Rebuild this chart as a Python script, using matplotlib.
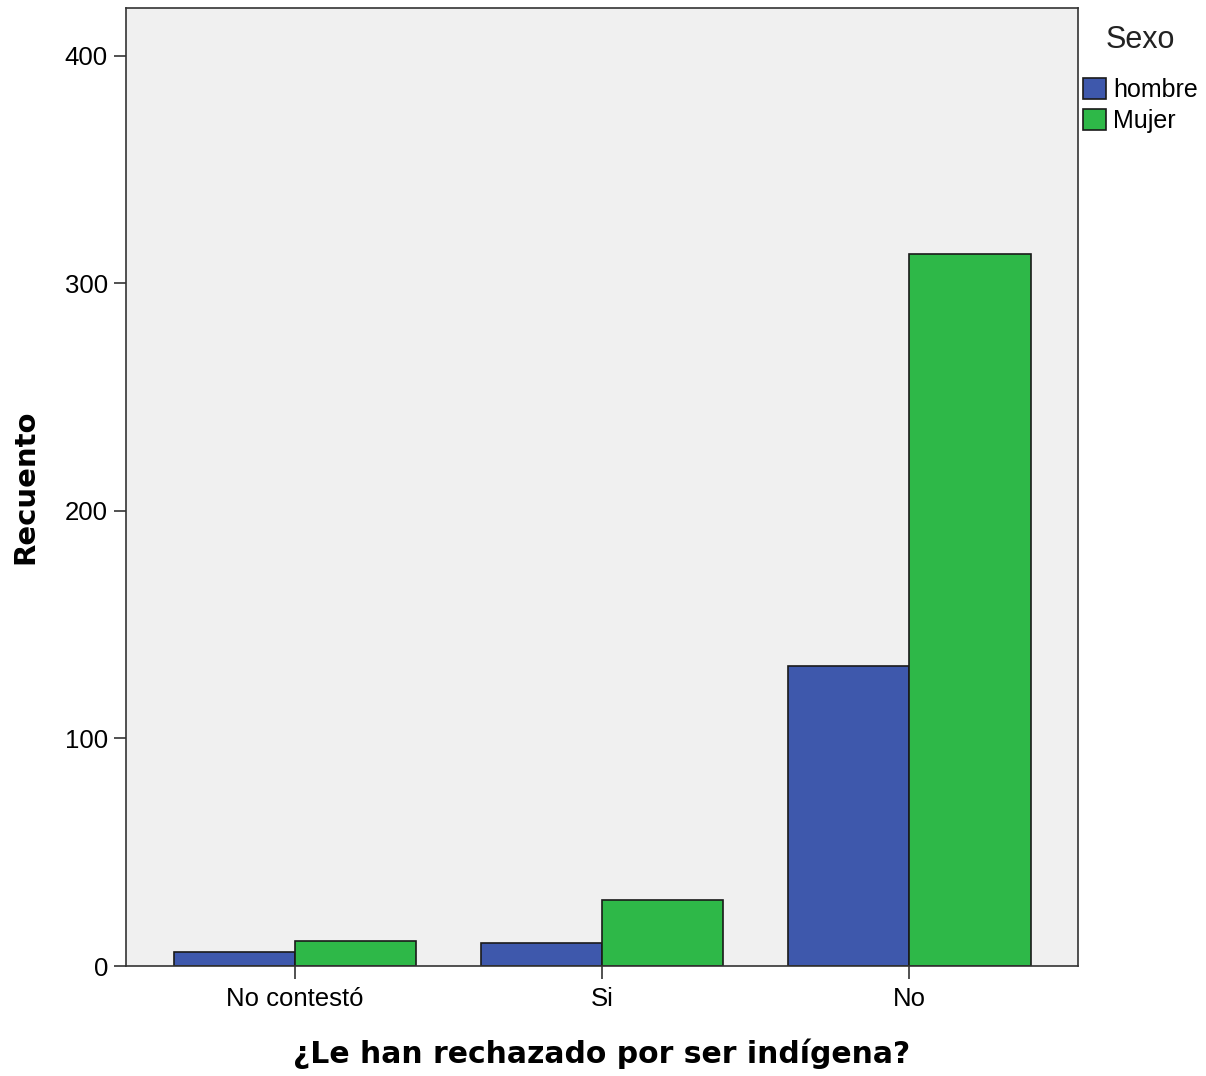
import numpy as np
import matplotlib.pyplot as plt
from matplotlib.patches import Patch

categories = ["No contestó", "Si", "No"]
hombre = [6, 10, 132]
mujer = [11, 29, 313]
series_names = ["hombre", "Mujer"]
yticks = [0, 100, 200, 300, 400]

colors = ["#3e58ac", "#2eb848"]
tick_font = ["Liberation Sans", "DejaVu Sans"]

fig = plt.figure(figsize=(12.06, 10.76), dpi=100)
ax = fig.add_axes([0.1045, 0.1022, 0.7895, 0.8904])
ax.set_facecolor("#f0f0f0")

x = np.arange(len(categories))
w = 0.395
ax.bar(x - w / 2, hombre, w, color=colors[0], edgecolor="#1a1a1a", linewidth=1.2)
ax.bar(x + w / 2, mujer, w, color=colors[1], edgecolor="#1a1a1a", linewidth=1.2)

ax.set_xlim(-0.55, 2.55)
ax.set_ylim(0, 421)
ax.set_yticks(yticks)
ax.set_xticks(x)
ax.set_xticklabels(categories, family=tick_font, fontsize=18.5)
ax.set_yticklabels([str(t) for t in yticks], family=tick_font, fontsize=18.5)
ax.tick_params(axis="both", length=9, width=1.2, color="#333333", pad=4)
ax.tick_params(axis="x", pad=6)
for s in ax.spines.values():
    s.set_color("#333333")
    s.set_linewidth(1.2)

ax.set_xlabel("¿Le han rechazado por ser indígena?", fontsize=21.5,
              fontweight="bold", labelpad=20)
ax.set_ylabel("Recuento", fontsize=21, fontweight="bold", labelpad=18)

# legend title drawn separately, SPSS puts it higher above the entries
fig.text(1140 / 1206, 1 - 40 / 1076, "Sexo", ha="center", va="center",
         family=tick_font, fontsize=22, color="#222222")
handles = [Patch(facecolor=c, edgecolor="#1a1a1a", linewidth=1.2) for c in colors]
leg = fig.legend(handles, series_names, loc="upper left",
                 bbox_to_anchor=(1083 / 1206, 1 - 78 / 1076), frameon=False,
                 prop={"family": tick_font, "size": 18},
                 handlelength=0.9, handleheight=0.9, handletextpad=0.3,
                 labelspacing=0.28, borderaxespad=0.0, borderpad=0.0)

fig.savefig("out.png", dpi=100)
